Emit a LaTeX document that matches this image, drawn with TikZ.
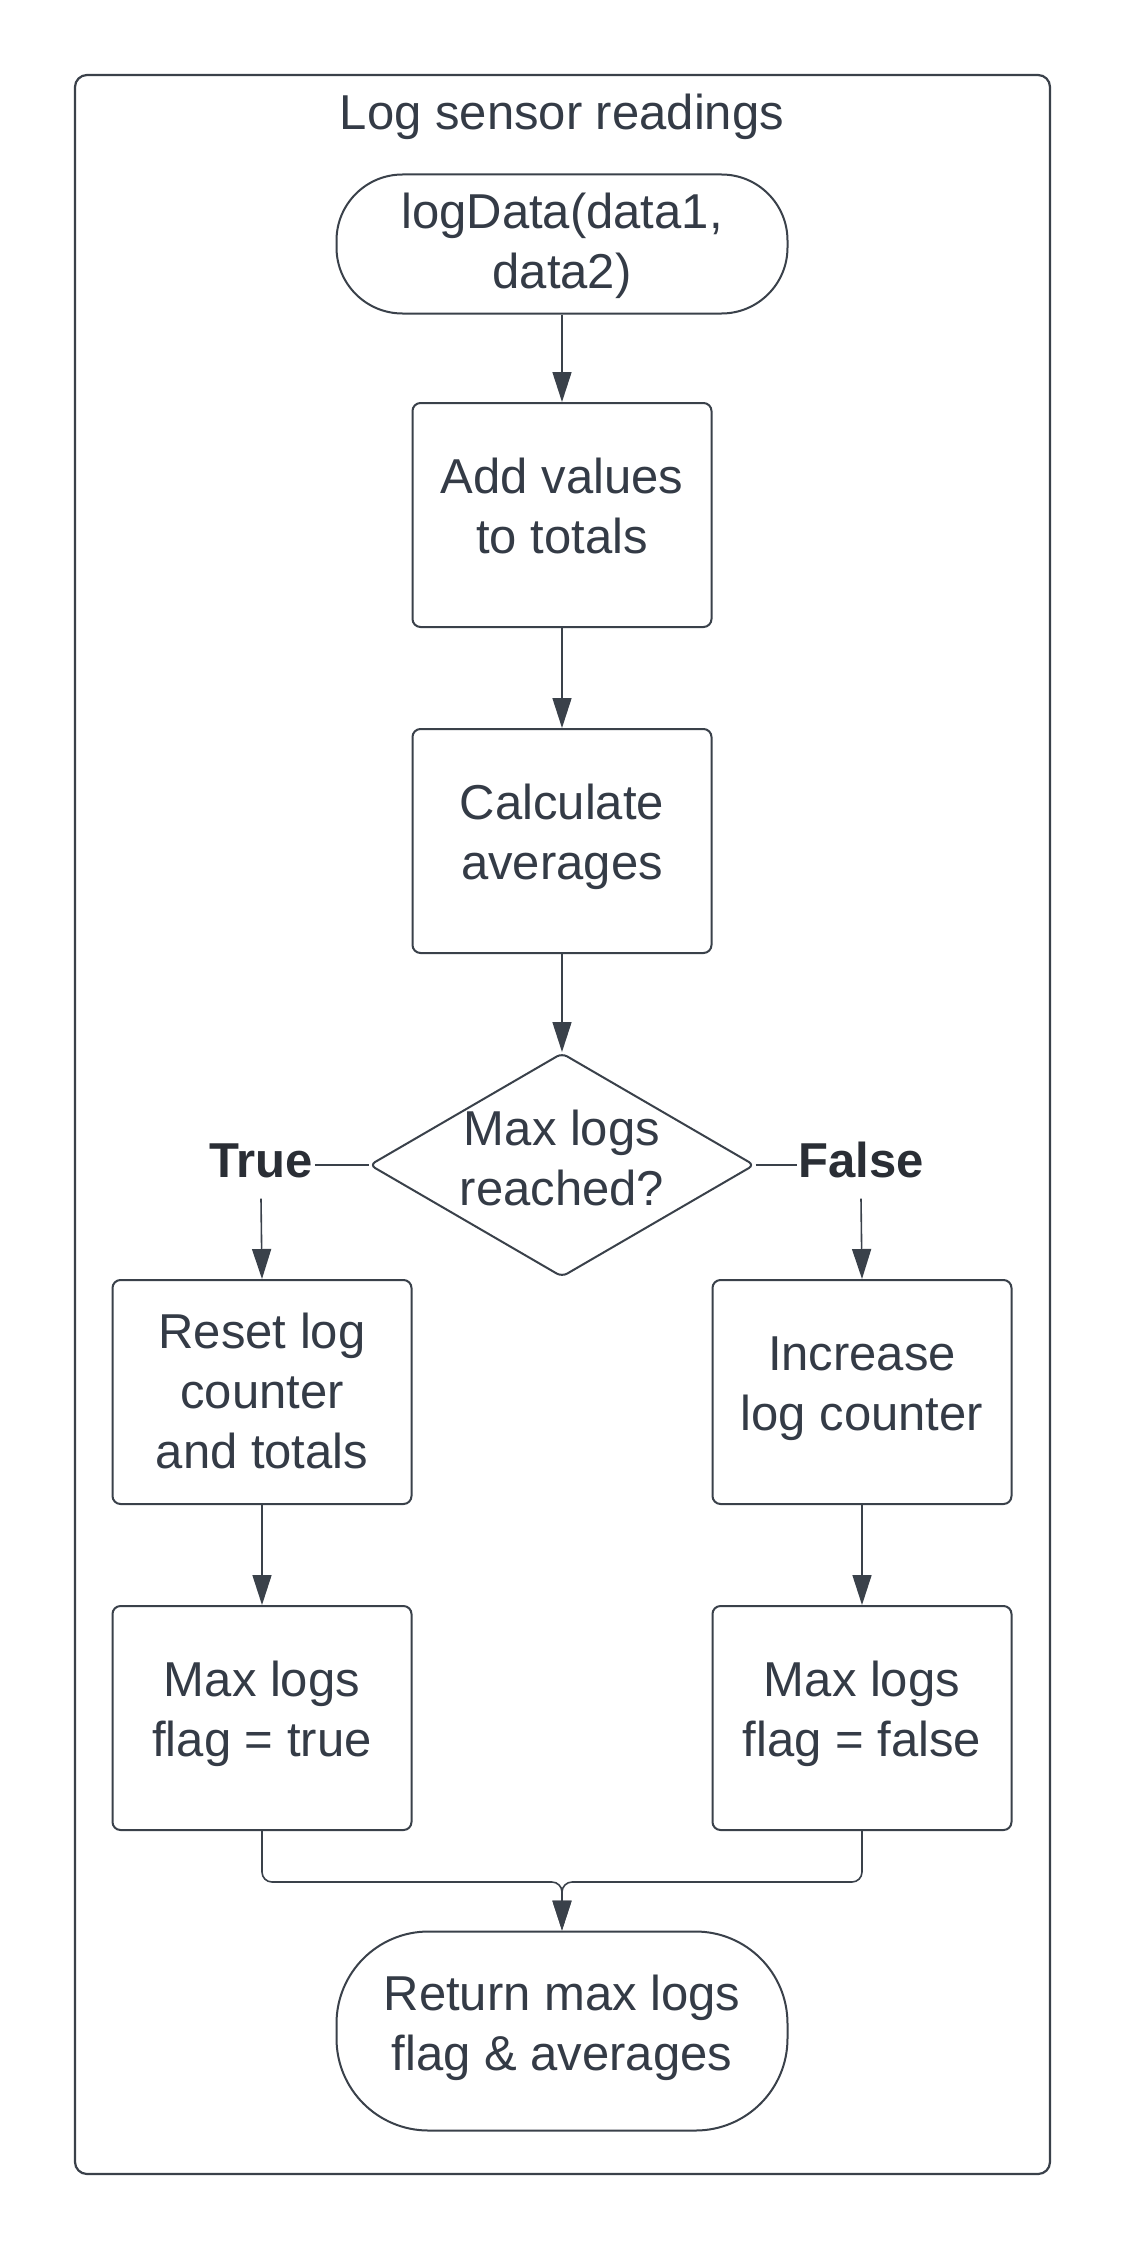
\documentclass[tikz,border=0pt]{standalone}
\usepackage{fontspec}
\setmainfont{Liberation Sans}
\usetikzlibrary{shapes.geometric,arrows.meta,calc}
\definecolor{linec}{HTML}{3A414A}
\definecolor{textc}{HTML}{343B46}
\definecolor{labc}{HTML}{2A2E35}
\newcommand\stA{\rule[-21pt]{0pt}{58pt}}
\newcommand\stB{\rule[-12pt]{0pt}{56pt}}
\newcommand\stC{\rule[-14pt]{0pt}{56pt}}
\newcommand\stD{\rule[-20pt]{0pt}{58pt}}
\newcommand\stE{\rule[-19pt]{0pt}{58pt}}
\tikzset{
  txt/.style={text=textc, font=\fontsize{49}{60}\selectfont, align=center},
  proc/.style={txt, draw=linec, line width=2pt, rounded corners=8pt, minimum width=299pt, minimum height=224pt, inner sep=0pt},
  termA/.style={txt, draw=linec, line width=2pt, rounded corners=66pt, minimum width=451pt, minimum height=139pt, inner sep=0pt},
  termB/.style={txt, draw=linec, line width=2pt, rounded corners=92pt, minimum width=451pt, minimum height=199pt, inner sep=0pt},
  decis/.style={diamond, draw=linec, line width=2pt, rounded corners=6pt, minimum width=385pt, minimum height=224pt, inner sep=0pt},
  arr/.style={draw=linec, line width=1.6pt, -{Triangle[length=30pt,width=19pt]}},
  conn/.style={draw=linec, line width=1.6pt},
  lbl/.style={text=labc, font=\fontsize{49}{60}\selectfont\bfseries, inner sep=0pt, anchor=base}
}
\begin{document}
\begin{tikzpicture}[x=1pt,y=-1pt]
\fill[white] (0,0) rectangle (1125,2250);
\useasboundingbox (0,0) rectangle (1125,2250);
\node[draw=linec, line width=2.2pt, rounded corners=12pt, minimum width=975pt, minimum height=2099pt, inner sep=0pt] (frame) at (562.5,1124.5) {};
\node[txt, inner sep=0pt, anchor=base] (title) at (562,130) {Log sensor readings};
\node[termA] (start) at (562,244) {\stC logData(data1,\\\stC data2)};
\node[proc] (add) at (562,515) {\stA Add values\\\stA to totals};
\node[proc] (calc) at (562,841) {\stA Calculate\\\stA averages};
\node[decis] (dia) at (562,1165) {};
\node[txt, inner sep=0pt] (diatext) at (562,1165) {\stE Max logs\\\stE reached?};
\node[lbl] (true) at (261,1177) {True};
\node[lbl] (false) at (861,1177) {False};
\node[proc] (reset) at (262,1392) {\stB Reset log\\\stB counter\\\stB and totals};
\node[proc] (flagt) at (262,1718) {\stA Max logs\\\stA flag = true};
\node[proc] (incr) at (862,1392) {\stA Increase\\\stA log counter};
\node[proc] (flagf) at (862,1718) {\stA Max logs\\\stA flag = false};
\node[termB] (ret) at (562,2031) {\stD Return max logs\\\stD flag \& averages};
\coordinate (merge) at (562,1882);

\draw[arr] (start) -- (add);
\draw[arr] (add) -- (calc);
\draw[arr] (calc) -- (dia);
\draw[conn] ([xshift=2pt]true.east |- dia.west) -- (dia.west);
\draw[conn] (dia.east) -- ([xshift=-1pt]false.west |- dia.east);
\draw[arr] ([yshift=-21pt]true.south) -- (reset.north);
\draw[arr] ([yshift=-21pt]false.south) -- (incr.north);
\draw[arr] (reset) -- (flagt);
\draw[arr] (incr) -- (flagf);
\draw[arr, rounded corners=10pt] (flagt.south) |- (merge) -- (ret.north);
\draw[arr, rounded corners=10pt] (flagf.south) |- (merge) -- (ret.north);
\end{tikzpicture}
\end{document}
